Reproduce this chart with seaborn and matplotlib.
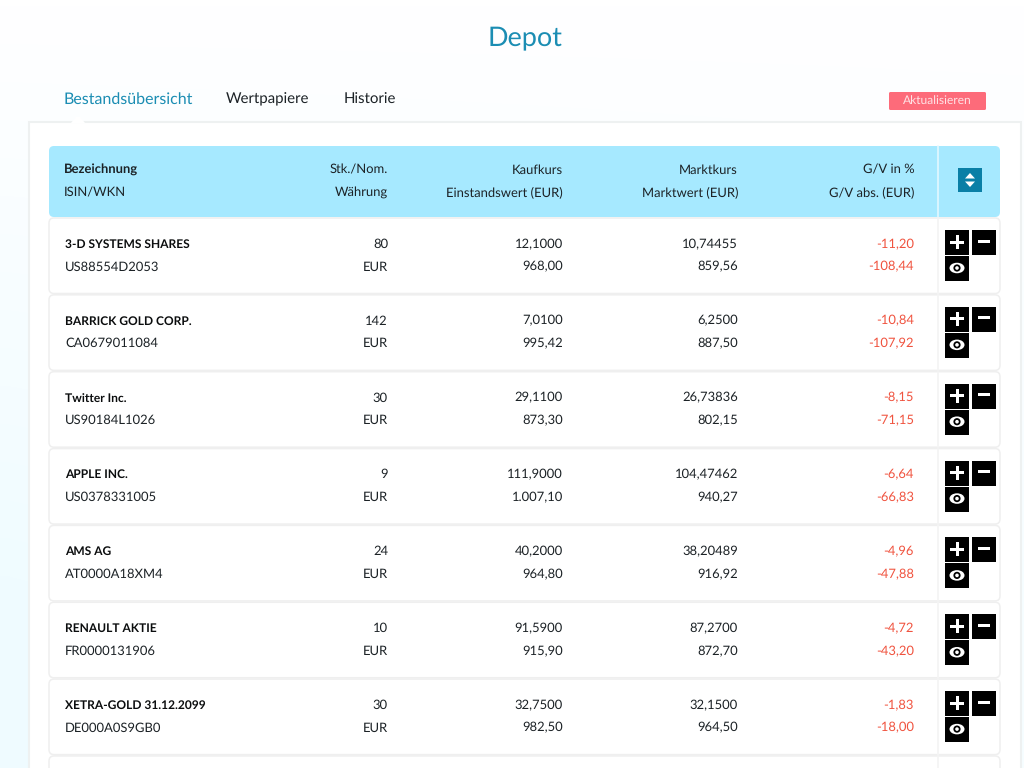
import numpy as np
import matplotlib
matplotlib.use("Agg")
import matplotlib.pyplot as plt
from matplotlib.patches import FancyBboxPatch, Rectangle, Polygon, Ellipse, Circle
import seaborn as sns

title = "Depot"
tabs = ["Bestandsübersicht", "Wertpapiere", "Historie"]
refresh_label = "Aktualisieren"
header_top = ["Bezeichnung", "Stk./Nom.", "Kaufkurs", "Marktkurs", "G/V in %"]
header_bottom = ["ISIN/WKN", "Währung", "Einstandswert (EUR)", "Marktwert (EUR)", "G/V abs. (EUR)"]

names = ["3-D SYSTEMS SHARES", "BARRICK GOLD CORP.", "Twitter Inc.", "APPLE INC.",
         "AMS AG", "RENAULT AKTIE", "XETRA-GOLD 31.12.2099"]
isins = ["US88554D2053", "CA0679011084", "US90184L1026", "US0378331005",
         "AT0000A18XM4", "FR0000131906", "DE000A0S9GB0"]
quantities = ["80", "142", "30", "9", "24", "10", "30"]
currencies = ["EUR"] * 7
buy_prices = ["12,1000", "7,0100", "29,1100", "111,9000", "40,2000", "91,5900", "32,7500"]
buy_values = ["968,00", "995,42", "873,30", "1.007,10", "964,80", "915,90", "982,50"]
market_prices = ["10,74455", "6,2500", "26,73836", "104,47462", "38,20489", "87,2700", "32,1500"]
market_values = ["859,56", "887,50", "802,15", "940,27", "916,92", "872,70", "964,50"]
pl_percent = ["-11,20", "-10,84", "-8,15", "-6,64", "-4,96", "-4,72", "-1,83"]
pl_absolute = ["-108,44", "-107,92", "-71,15", "-66,83", "-47,88", "-43,20", "-18,00"]

sns.set_theme(style="white")
plt.rcParams["font.family"] = ["Lato", "DejaVu Sans"]
plt.rcParams["text.hinting"] = "no_hinting"
plt.rcParams["text.hinting_factor"] = 1

BLUE = "#1b8db3"
DARK = "#1c2226"
RED = "#f0533f"
LINE = "#efefef"
FS = 9.4

fig = plt.figure(figsize=(10.24, 7.68), dpi=100)
ax = fig.add_axes([0, 0, 1, 1])
ax.set_xlim(0, 1024)
ax.set_ylim(768, 0)
ax.axis("off")

# page background: white fading to a pale cyan toward the lower left
yy, xx = np.mgrid[0:1:64j, 0:1:64j]
tint = np.clip(yy * 1.3, 0, 1) * (0.55 + 0.45 * (1 - xx))
bg = np.dstack([1 - 0.06 * tint, 1 - 0.012 * tint, np.ones_like(tint)])
ax.imshow(bg, extent=(0, 1024, 768, 0), aspect="auto", zorder=0, interpolation="bilinear")

def rbox(x0, y0, x1, y1, r, fc, ec="none", lw=0, z=1):
    ax.add_patch(FancyBboxPatch((x0 + r, y0 + r), x1 - x0 - 2 * r, y1 - y0 - 2 * r,
                                boxstyle=f"round,pad={r},rounding_size={r}",
                                fc=fc, ec=ec, lw=lw, zorder=z))

def txt(x, y, s, color=DARK, size=FS, weight="normal", ha="right", z=6, **kw):
    ax.text(x, y + 4.3, s, color=color, fontsize=size, fontweight=weight, ha=ha, va="baseline", zorder=z, **kw)

txt(524.5, 41.5, title, color=BLUE, size=19.3, ha="center")
tab_x = [64, 226, 344]
tab_sizes = [11.4, 11.0, 11.0]
for i, (x, t) in enumerate(zip(tab_x, tabs)):
    txt(x, 99.3, t, color=BLUE if i == 0 else DARK, size=tab_sizes[i], ha="left")

rbox(889, 92, 986, 110, 1.5, "#fd6b7a")
txt(937.5, 99.5, refresh_label, color="#ffe3e6", size=8.6, ha="center")

# main card
ax.add_patch(Rectangle((29, 122), 992, 660, fc="white", ec="#eef1f1", lw=1.5, zorder=1))
ax.add_patch(Polygon([[71, 123], [85, 123], [80, 117], [76, 117]], fc="white", ec="none", zorder=2))

# header
rbox(49, 146, 1000, 217, 5, "#a6e9ff", z=2)
ax.plot([938, 938], [146, 217], color="#e3f8ff", lw=1.2, zorder=3)
col_right = [388, 563, 738, 914.5]
txt(64, 169.5, header_top[0], weight="bold", ha="left")
txt(64, 191.7, header_bottom[0], ha="left")
for x, a, b in zip(col_right, header_top[1:], header_bottom[1:]):
    txt(x, 169.5, a, size=9.25)
    txt(x, 191.7, b, size=9.25)
ax.add_patch(Rectangle((958, 168), 24, 24, fc="#0a7fa6", ec="none", zorder=4))
ax.add_patch(Polygon([[965, 178.5], [975, 178.5], [970, 173]], fc="white", ec="none", zorder=5))
ax.add_patch(Polygon([[965, 181.5], [975, 181.5], [970, 187]], fc="white", ec="none", zorder=5))

# rows
PITCH = 76.85
TOP = 218.0

def row_box(top):
    rbox(49, top, 1000, top + 75.5, 5, "white", ec=LINE, lw=1.1, z=2)
    ax.plot([938, 938], [top, min(top + 75.5, 768)], color="#f4f4f4", lw=1.2, zorder=3)

def buttons(top):
    a = top + 12
    ax.add_patch(Rectangle((945, a), 24, 25, fc="black", ec="none", zorder=4))
    ax.add_patch(Rectangle((971.5, a), 24.5, 25, fc="black", ec="none", zorder=4))
    ax.add_patch(Rectangle((945, a + 26), 24, 25, fc="black", ec="none", zorder=4))
    cx, cy = 957, a + 12
    ax.add_patch(Rectangle((cx - 7, cy - 1.5), 14, 3, fc="white", ec="none", zorder=5))
    ax.add_patch(Rectangle((cx - 1.5, cy - 7), 3, 14, fc="white", ec="none", zorder=5))
    ax.add_patch(Rectangle((977.5, a + 9.5), 12, 3, fc="white", ec="none", zorder=5))
    ex, ey = 957, a + 38
    ax.add_patch(Ellipse((ex, ey), 15, 10.5, fc="white", ec="none", zorder=5))
    ax.add_patch(Circle((ex, ey), 3.6, fc="black", ec="none", zorder=6))
    ax.add_patch(Circle((ex, ey), 1.8, fc="white", ec="none", zorder=7))

for i in range(len(names)):
    top = TOP + i * PITCH
    row_box(top)
    buttons(top)
    y1, y2 = top + 25.5, top + 48.2
    txt(65, y1, names[i], weight="bold", ha="left", color="#0b0d0e", size=8.55)
    txt(65, y2, isins[i], ha="left", size=9.2)
    txt(col_right[0], y1, quantities[i])
    txt(col_right[0], y2, currencies[i])
    txt(col_right[1], y1, buy_prices[i])
    txt(col_right[1], y2, buy_values[i])
    txt(col_right[2], y1, market_prices[i])
    txt(col_right[2], y2, market_values[i])
    txt(col_right[3] - 0.5, y1, pl_percent[i], color=RED)
    txt(col_right[3] - 0.5, y2, pl_absolute[i], color=RED)

row_box(TOP + len(names) * PITCH)  # next row, cut off by the page edge

fig.savefig("out.png", dpi=100)
